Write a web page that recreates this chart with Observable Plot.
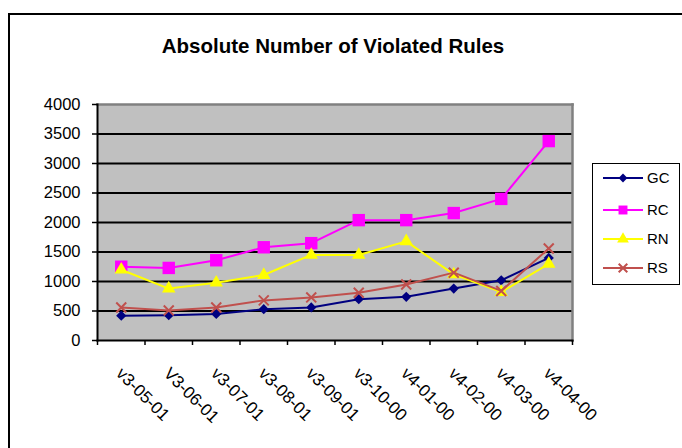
<!DOCTYPE html>
<html>
<head>
<meta charset="utf-8">
<script src="https://cdn.jsdelivr.net/npm/d3@7"></script>
<script src="https://cdn.jsdelivr.net/npm/@observablehq/plot@0.6"></script>
<style>
  html, body { margin: 0; padding: 0; background: #fff; }
  #wrap { position: relative; width: 682px; height: 448px; overflow: hidden; font-family: "Liberation Sans", Arial, sans-serif; }
  #border { position: absolute; left: 8px; top: 13px; width: 720px; height: 520px; border: 2px solid #000; }
  #title { position: absolute; left: 133px; top: 36px; width: 400px; text-align: center; font-size: 20.5px; line-height: 20px; font-weight: bold; color: #000; white-space: nowrap; }
  #chart { position: absolute; left: 0; top: 0; }
  #legend { position: absolute; left: 592px; top: 163px; width: 88px; height: 122px; border: 1.5px solid #000; box-sizing: border-box; background: #fff; }
</style>
</head>
<body>
<div id="wrap">
  <div id="border"></div>
  <div id="chart"></div>
  <div id="title">Absolute Number of Violated Rules</div>
  <div id="legend"></div>
</div>
<script>
// ---- data ----
const categories = ["v3-05-01", "V3-06-01", "v3-07-01", "v3-08-01", "v3-09-01", "v3-10-00", "v4-01-00", "v4-02-00", "v4-03-00", "v4-04-00"];
const seriesNames = ["GC", "RC", "RN", "RS"];
const GC = [420, 430, 450, 530, 560, 700, 740, 880, 1020, 1400];
const RC = [1250, 1230, 1360, 1580, 1650, 2040, 2040, 2160, 2400, 3380];
const RN = [1200, 880, 980, 1110, 1450, 1450, 1680, 1120, 820, 1300];
const RS = [560, 510, 560, 680, 730, 810, 950, 1150, 840, 1560];
const yTicks = [0, 500, 1000, 1500, 2000, 2500, 3000, 3500, 4000];

const seriesValues = {GC, RC, RN, RS};
const colors = {GC: "#000080", RC: "#ff00ff", RN: "#ffff00", RS: "#c0504d"};
const symbols = {GC: "diamond2", RC: "square", RN: "triangle", RS: "times"};
const radius = {GC: 4.6, RC: 7, RN: 5, RS: 4.6};
const filled = {GC: true, RC: true, RN: true, RS: false};

const rows = seriesNames.flatMap(s => categories.map((c, i) => ({series: s, cat: c, i, value: seriesValues[s][i]})));

const seriesMarks = seriesNames.flatMap(s => {
  const data = rows.filter(d => d.series === s);
  return [
    Plot.line(data, {x: d => d.i + 0.5, y: "value", stroke: colors[s], strokeWidth: 2}),
    Plot.dot(data, {
      x: d => d.i + 0.5, y: "value", symbol: symbols[s], r: radius[s],
      fill: filled[s] ? colors[s] : "none",
      stroke: filled[s] ? "none" : colors[s],
      strokeWidth: filled[s] ? 0 : 2
    })
  ];
});

const chart = Plot.plot({
  width: 682,
  height: 448,
  marginLeft: 97,
  marginRight: 110,
  marginTop: 104,
  marginBottom: 108,
  x: {type: "linear", domain: [0, categories.length], axis: null},
  y: {domain: [0, 4000], axis: null},
  style: {fontFamily: "'Liberation Sans', Arial, sans-serif", fontSize: "16px", color: "#000", background: "transparent", overflow: "visible"},
  marks: [
    Plot.frame({fill: "#c0c0c0"}),
    Plot.ruleY(yTicks.slice(1, -1), {stroke: "#000", strokeWidth: 2}),
    Plot.frame({anchor: "top", stroke: "#808080", strokeWidth: 2.5}),
    Plot.frame({anchor: "right", stroke: "#808080", strokeWidth: 2.5}),
    Plot.frame({anchor: "left", stroke: "#000", strokeWidth: 2}),
    Plot.frame({anchor: "bottom", stroke: "#000", strokeWidth: 2}),
    Plot.axisY({ticks: yTicks, tickSize: 5, tickPadding: 12, tickFormat: d => String(d), label: null, stroke: "#000", strokeWidth: 1.5, fontSize: 16.5}),
    Plot.axisX({ticks: d3.range(0, categories.length + 1), tickSize: 5, tickFormat: () => "", label: null, stroke: "#000", strokeWidth: 1.5}),
    Plot.text(categories, {x: (d, i) => i + 0.5, frameAnchor: "bottom", text: d => d, rotate: 45, textAnchor: "start", lineAnchor: "bottom", dx: -6, dy: 34, fontSize: 17, fill: "#000"}),
    ...seriesMarks
  ]
});
document.getElementById("chart").appendChild(chart);

// ---- legend ----
const legendSymbols = {GC: d3.symbolDiamond2, RC: d3.symbolSquare, RN: d3.symbolTriangle, RS: d3.symbolTimes};
const legendSizes = {GC: 50, RC: 80, RN: 60, RS: 50};
const legendY = [15, 47, 76, 105];
const lsvg = d3.select("#legend").append("svg").attr("width", 88).attr("height", 122).style("position", "absolute").style("left", "-1.5px").style("top", "-1.5px");
seriesNames.forEach((s, k) => {
  const g = lsvg.append("g").attr("transform", `translate(0,${legendY[k]})`);
  g.append("line").attr("x1", 11).attr("x2", 51).attr("y1", 0).attr("y2", 0).attr("stroke", colors[s]).attr("stroke-width", 2);
  g.append("path").attr("transform", "translate(31,0)")
    .attr("d", d3.symbol(legendSymbols[s], legendSizes[s])())
    .attr("fill", filled[s] ? colors[s] : "none")
    .attr("stroke", filled[s] ? "none" : colors[s])
    .attr("stroke-width", 2);
  g.append("text").attr("x", 55).attr("y", 0).attr("dy", "0.36em").attr("font-size", 15)
    .attr("font-family", "'Liberation Sans', Arial, sans-serif").attr("fill", "#000").text(s);
});
</script>
</body>
</html>
